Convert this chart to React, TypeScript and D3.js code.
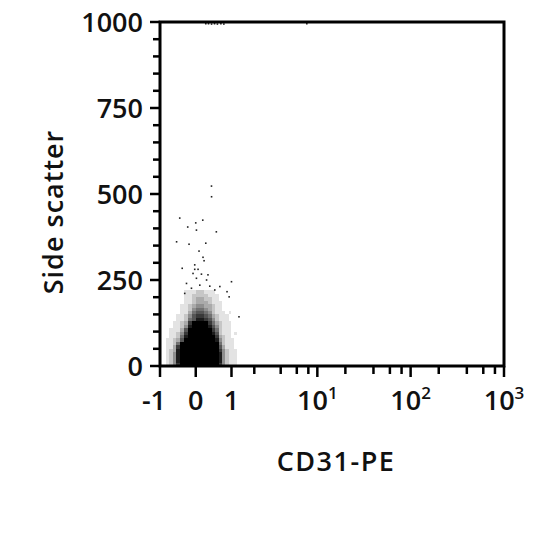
import React from "react";
import * as d3 from "d3";

// ---- axis data ----
const xMajorTicks = [-1, 0, 1, 10, 100, 1000];
const xMajorBase = ["-1", "0", "1", "10", "10", "10"];
const xMajorExp = ["", "", "", "1", "2", "3"];
const xMinorTicks = [2, 4, 6, 8, 20, 40, 60, 80, 200, 400, 600, 800];
const yMajorTicks = [0, 250, 500, 750, 1000];
const yMinorTicks = [50, 100, 150, 200, 300, 350, 400, 450, 550, 600, 650, 700, 800, 850, 900, 950];

// ---- event density grid (CD31-PE bin edges x Side scatter bin edges) ----
const densityXEdges = [-0.8, -0.7, -0.6, -0.5, -0.4, -0.3, -0.2, -0.1, 0, 0.1, 0.2, 0.3, 0.4, 0.5, 0.6, 0.7, 0.8, 0.9, 1.0, 1.1, 1.2];
const densityYEdges = [0, 10, 20, 30, 40, 50, 60, 70, 80, 90, 100, 110, 120, 130, 140, 150, 160, 170, 180, 190, 200, 210, 220];
// rows listed from the lowest side-scatter bin upwards; digit = density 0..9
const densityRows = [
  "12479999999999742111",
  "12489999999999842111",
  "12489999999999842111",
  "12489999999999842111",
  "12389999999999742111",
  "11379999999999631110",
  "11259999999999521110",
  "11236999999998421110",
  "01125899999997321100",
  "01124799999986211101",
  "01113699999975211100",
  "00112489999864211100",
  "00112379999753211100",
  "00011256887642111000",
  "00011246776532111000",
  "00001135665421110100",
  "00001124554321100000",
  "00001123443321100000",
  "00000112333211100000",
  "00000112332211000000",
  "00000112222111000000",
  "00000111221110000000",
];

// ---- sparse events outside the dense core ----
const eventCD31 = [0.398, 0.40, -0.405, 0.174, 0, -0.199, 0.017, 0.53, -0.49, -0.166, 0.25, 0.081, 0.18, 0.207, -0.34, -0.025, -0.025, 0.057, -0.067, 0.141, 0.306, 0.017, 0.27, 1.0, -0.23, 0.1, 0.353, 0.63, -0.106, 0.487, 0.85, -0.275, 0.92, 1.28, 0.25, 0.32, 0.4, 0.48, 0.56, 0.66, 0.75, 7.7];
const eventSSC = [523, 492, 430, 424, 416, 404, 395, 390, 361, 354, 357, 334, 316, 306, 284, 294, 281, 281, 269, 267, 265, 255, 250, 245, 240, 235, 232, 231, 226, 221, 216, 211, 201, 143, 995, 995, 994, 995, 994, 995, 994, 995];

const FONT = "'Open Sans', 'DejaVu Sans', sans-serif";

export default function App() {
  const left = 160, right = 504, top = 22, bottom = 366;
  const xT = d3.scaleLinear().domain([Math.asinh(-1), Math.asinh(1000)]).range([left, right]);
  const x = (v: number) => xT(Math.asinh(v));
  const y = d3.scaleLinear().domain([0, 1000]).range([bottom, top]);

  const cells: JSX.Element[] = [];
  densityRows.forEach((row, r) => {
    row.split("").forEach((ch, c) => {
      const d = +ch;
      if (!d) return;
      const x0 = x(densityXEdges[c]);
      const x1 = x(densityXEdges[c + 1]);
      const y0 = y(densityYEdges[r + 1]);
      const y1 = y(densityYEdges[r]);
      cells.push(
        <rect key={`c${r}-${c}`} x={x0} y={y0} width={x1 - x0} height={y1 - y0}
          fill="#000" fillOpacity={d / 9} shapeRendering="crispEdges" />
      );
    });
  });

  return (
    <svg width={540} height={540} style={{ position: "absolute", left: 0, top: 0 }}
      fontFamily={FONT}>
      <rect x={0} y={0} width={540} height={540} fill="#fff" />
      <g>{cells}</g>
      <g>
        {eventCD31.map((v, i) => (
          <rect key={`e${i}`} x={x(v) - 0.8} y={y(eventSSC[i]) - 0.8} width={1.6} height={1.6} fill="#222" />
        ))}
      </g>
      {/* frame */}
      <rect x={left} y={top} width={right - left} height={bottom - top} fill="none" stroke="#000" strokeWidth={3} />
      {/* y ticks */}
      {yMajorTicks.map((v) => (
        <line key={`ym${v}`} x1={left - 10} x2={left} y1={y(v)} y2={y(v)} stroke="#000" strokeWidth={2.5} />
      ))}
      {yMinorTicks.map((v) => (
        <line key={`yn${v}`} x1={left - 7} x2={left} y1={y(v)} y2={y(v)} stroke="#000" strokeWidth={2.5} />
      ))}
      {yMajorTicks.map((v) => (
        <text key={`yl${v}`} x={left - 17} y={y(v)} dy="0.36em" textAnchor="end" fontSize={27} fontWeight={600} fill="#111">{v}</text>
      ))}
      {/* x ticks */}
      {xMajorTicks.map((v) => (
        <line key={`xm${v}`} x1={x(v)} x2={x(v)} y1={bottom} y2={bottom + 11} stroke="#000" strokeWidth={2.5} />
      ))}
      {xMinorTicks.map((v) => (
        <line key={`xn${v}`} x1={x(v)} x2={x(v)} y1={bottom} y2={bottom + 8} stroke="#000" strokeWidth={2.5} />
      ))}
      {xMajorTicks.map((v, i) => (
        <text key={`xl${v}`} x={x(v)} dx={v < 0 ? -6 : 0} y={410} textAnchor="middle" fontSize={27} fontWeight={600} fill="#111">
          <tspan>{xMajorBase[i]}</tspan>
          {xMajorExp[i] && <tspan dy={-11} fontSize={17}>{xMajorExp[i]}</tspan>}
        </text>
      ))}
      {/* titles */}
      <text x={336} y={471} textAnchor="middle" fontSize={27} fontWeight={600} letterSpacing={1.5} fill="#111">CD31-PE</text>
      <text transform="translate(63,212) rotate(-90)" textAnchor="middle" fontSize={27} fontWeight={600} letterSpacing={1} fill="#111">Side scatter</text>
    </svg>
  );
}
